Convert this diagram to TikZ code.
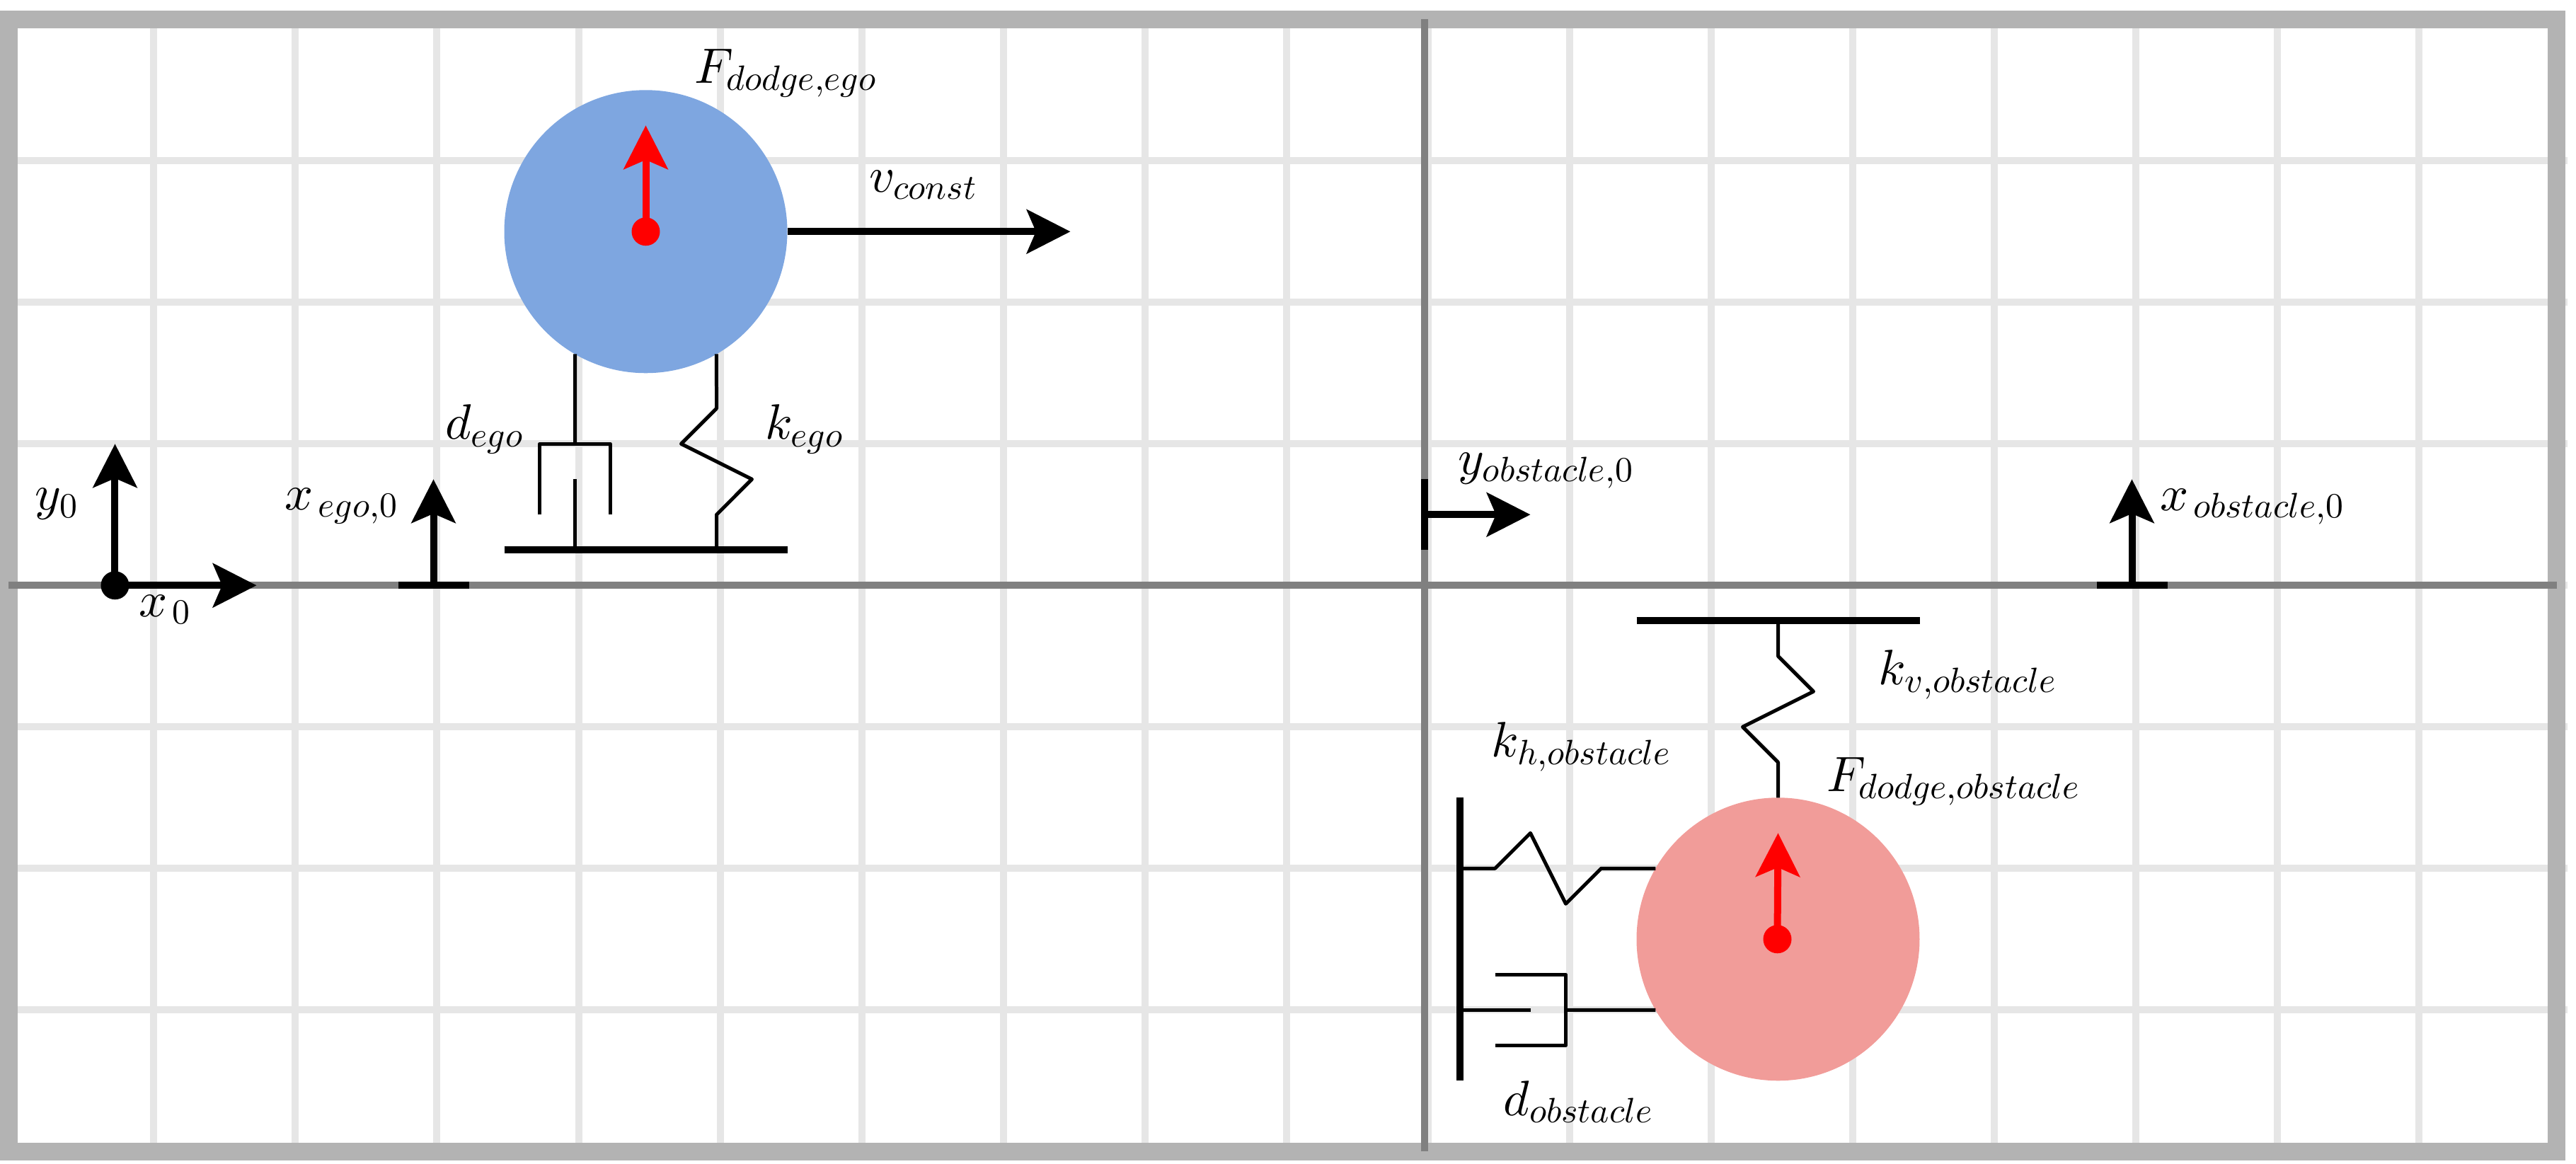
\documentclass[tikz,border=0pt]{standalone}
\usepackage{amsmath}
\usepackage{amssymb}
\usetikzlibrary{arrows.meta}
\usetikzlibrary{positioning}
\DeclareFontFamily{OML}{mcm}{\skewchar\font127}
\DeclareFontShape{OML}{mcm}{m}{it}{<-> cmmi10}{}
\DeclareSymbolFont{letters}{OML}{mcm}{m}{it}
\DeclareFontFamily{OT1}{mcr}{\hyphenchar\font45}
\DeclareFontShape{OT1}{mcr}{m}{n}{<-> cmr10}{}
\DeclareSymbolFont{operators}{OT1}{mcr}{m}{n}
\DeclareMathSizes{10}{10}{7.07}{5}
\definecolor{mframe}{HTML}{B3B3B3}
\definecolor{mgrid}{HTML}{E6E6E6}
\definecolor{maxis}{HTML}{808080}
\definecolor{mblue}{HTML}{7EA6E0}
\definecolor{mred}{HTML}{F19C99}
\tikzset{circ/.style = {fill, circle, inner sep = 0, outer sep = 0, minimum size = 0.2cm}}
\tikzset{mass/.style = {fill, circle, inner sep = 0, outer sep = 0, minimum size = 2cm}}
\tikzset{lab/.style = {inner sep = 0}}
\tikzset{bar/.style = {line width = 0.5mm}}
\tikzset{link/.style = {line width = 0.25mm, line join = round}}
\tikzset{arw/.style = {line width = 0.5mm, -{Stealth[length = 3.08mm, width = 3.1mm, inset = 0.65mm]}}}

\begin{document}
\begin{tikzpicture}
    \useasboundingbox (-0.0875, -0.0885) rectangle (18.1125, 8.1365);

    % background grid, frame, axes
    \foreach \i in {1, ..., 17} {
      \draw [mgrid, bar] (\i, 0) -- (\i, 8);
    }
    \foreach \j in {1, ..., 7} {
      \draw [mgrid, bar] (0, \j) -- (18.05, \j);
    }
    \draw [mframe, line width = 1.25mm] (-0.025, 0) rectangle (17.975, 8);
    \coordinate (axl) at (-0.025, 4);
    \coordinate (axr) at (17.975, 4);
    \coordinate (axb) at (9.975, 0);
    \coordinate (axt) at (9.975, 8);
    \draw [maxis, bar] (axl) -- (axr);
    \draw [maxis, bar] (axb) -- (axt);

    % origin
    \node [circ] (origin) at (0.725, 4) {};
    \coordinate (xtip) at (1.725, 4);
    \coordinate (ytip) at (0.725, 5);
    \draw [arw] (origin.center) -- (xtip);
    \draw [arw] (origin.center) -- (ytip);
    \node [lab] (xlab) at (1.085, 3.83) {$x_{\kern1pt 0}$};
    \node [lab] (ylab) at (0.3175, 4.575) {$y_0$};

    % ego start marker
    \coordinate (egol) at (2.725, 4);
    \coordinate (egor) at (3.225, 4);
    \coordinate (egom) at (2.975, 4);
    \coordinate (egotip) at (2.975, 4.75);
    \draw [bar] (egol) -- (egor);
    \draw [arw] (egom) -- (egotip);
    \node [lab] (egoxlab) at (2.33, 4.56) {$x_{\kern1pt ego,0}$};

    % ego mass
    \node [mass, mblue] (ego) at (4.475, 6.5) {};
    \node [circ, red] (egodot) at (4.475, 6.5) {};
    \coordinate (egoftip) at (4.475, 7.25);
    \coordinate (egovtip) at (7.475, 6.5);
    \draw [arw, red] (egodot.center) -- (egoftip);
    \draw [arw] (ego.east) -- (egovtip);
    \node [lab] (egoflab) at (5.47, 7.62) {$F_{dodge,ego}$};
    \node [lab] (egovlab) at (6.44, 6.83) {$v_{const}$};

    % ego suspension
    \coordinate (ebl) at (3.475, 4.25);
    \coordinate (ebr) at (5.475, 4.25);
    \draw [bar] (ebl) -- (ebr);
    \coordinate (edcap) at (3.975, 5);
    \coordinate (edfoot) at (3.975, 4.25);
    \coordinate (edpist) at (3.975, 4.75);
    \coordinate (esfoot) at (4.975, 4.25);
    \draw [link] (ego.-120) -- (edcap);
    \draw [link] (3.725, 4.5) -- (3.725, 5) -- (4.225, 5) -- (4.225, 4.5);
    \draw [link] (edpist) -- (edfoot);
    \draw [link] (ego.-60) -- (4.975, 5.25) -- (4.725, 5) -- (5.225, 4.75) -- (4.975, 4.5) -- (esfoot);
    \node [lab] (edlab) at (3.34, 5.105) {$d_{ego}$};
    \node [lab] (eklab) at (5.6, 5.105) {$k_{ego}$};

    % obstacle start markers
    \coordinate (ymb) at (9.975, 4.25);
    \coordinate (ymt) at (9.975, 4.75);
    \coordinate (ymm) at (9.975, 4.5);
    \coordinate (ymtip) at (10.725, 4.5);
    \draw [bar] (ymb) -- (ymt);
    \draw [arw] (ymm) -- (ymtip);
    \node [lab] (oylab) at (10.84, 4.81) {$y_{obstacle,0}$};

    \coordinate (xml) at (14.725, 4);
    \coordinate (xmr) at (15.225, 4);
    \coordinate (xmm) at (14.975, 4);
    \coordinate (xmtip) at (14.975, 4.75);
    \draw [bar] (xml) -- (xmr);
    \draw [arw] (xmm) -- (xmtip);
    \node [lab] (oxlab) at (15.83, 4.555) {$x_{\kern1pt obstacle,0}$};

    % obstacle mass
    \node [mass, mred] (obst) at (12.475, 1.5) {};
    \node [circ, red] (obstdot) at (12.47, 1.5) {};
    \coordinate (obstftip) at (12.475, 2.25);
    \draw [arw, red] (obstdot.center) -- (obstftip);
    \node [lab] (oflab) at (13.72, 2.615) {$F_{dodge,obstacle}$};

    % obstacle suspension
    \coordinate (tbl) at (11.475, 3.75);
    \coordinate (tbr) at (13.475, 3.75);
    \coordinate (tbm) at (12.475, 3.75);
    \draw [bar] (tbl) -- (tbr);
    \draw [link] (tbm) -- (12.475, 3.5) -- (12.725, 3.25) -- (12.225, 3) -- (12.475, 2.75) -- (obst.north);
    \node [lab] (kvlab) at (13.82, 3.37) {$k_{v,obstacle}$};

    \coordinate (wallt) at (10.225, 2.5);
    \coordinate (wallb) at (10.225, 0.5);
    \coordinate (wallk) at (10.225, 2);
    \coordinate (walld) at (10.225, 1);
    \coordinate (opist) at (10.725, 1);
    \coordinate (ocap) at (10.975, 1);
    \draw [bar] (wallt) -- (wallb);
    \draw [link] (wallk) -- (10.475, 2) -- (10.725, 2.25) -- (10.975, 1.75) -- (11.225, 2) -- (obst.150);
    \node [lab] (khlab) at (11.09, 2.86) {$k_{h,obstacle}$};
    \draw [link] (walld) -- (opist);
    \draw [link] (10.475, 1.25) -- (10.975, 1.25) -- (10.975, 0.75) -- (10.475, 0.75);
    \draw [link] (ocap) -- (obst.210);
    \node [lab] (odlab) at (11.07, 0.35) {$d_{obstacle}$};
  \end{tikzpicture}
\end{document}
